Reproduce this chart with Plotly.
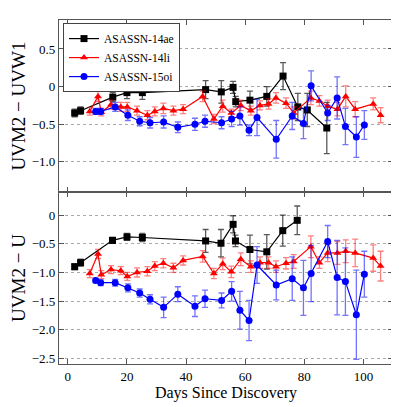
import plotly.graph_objects as go
from plotly.subplots import make_subplots

# ---- data ----
days_14ae_top = [2.3, 4.3, 15.2, 20.0, 25.2, 46.6, 51.9, 55.9, 56.8, 61.6, 67.3, 72.8, 77.8, 81.0, 87.6]
uvm2_uvw1_14ae = [-0.35, -0.32, -0.14, -0.08, -0.08, -0.04, -0.07, -0.01, -0.20, -0.18, -0.13, 0.14, -0.27, -0.31, -0.55]
err_uvw1_14ae = [0.05, 0.05, 0.06, 0.08, 0.09, 0.12, 0.15, 0.08, 0.07, 0.12, 0.13, 0.18, 0.18, 0.22, 0.34]

days_14ae_bot = [2.3, 4.3, 15.1, 20.0, 25.2, 46.6, 51.8, 55.9, 56.7, 61.6, 67.3, 72.7, 77.6]
uvm2_u_14ae = [-0.90, -0.83, -0.44, -0.38, -0.39, -0.45, -0.49, -0.16, -0.45, -0.60, -0.64, -0.27, -0.09]
err_u_14ae = [0.05, 0.06, 0.05, 0.06, 0.07, 0.20, 0.24, 0.15, 0.10, 0.25, 0.30, 0.27, 0.25]

days_14li = [7.4, 10.2, 11.3, 14.6, 17.9, 20.1, 23.4, 26.9, 29.4, 32.3, 35.7, 39.0, 45.6, 49.4, 52.4, 55.3,
             58.5, 61.9, 65.0, 67.9, 70.4, 73.8, 76.4, 82.2, 85.1, 87.9, 91.2, 94.0, 97.2, 103.3, 105.8]
uvm2_uvw1_14li = [-0.33, -0.13, -0.34, -0.24, -0.27, -0.27, -0.32, -0.38, -0.33, -0.29, -0.32, -0.30, -0.13,
                  -0.43, -0.26, -0.35, -0.25, -0.32, -0.25, -0.23, -0.15, -0.22, -0.35, -0.15, -0.19, -0.26,
                  -0.30, -0.13, -0.30, -0.23, -0.38]
err_uvw1_14li = [0.05, 0.07, 0.05, 0.06, 0.06, 0.06, 0.06, 0.06, 0.06, 0.07, 0.06, 0.06, 0.07, 0.06, 0.08, 0.05,
                 0.07, 0.06, 0.06, 0.07, 0.07, 0.07, 0.08, 0.09, 0.07, 0.08, 0.09, 0.14, 0.10, 0.08, 0.10]
uvm2_u_14li = [-1.02, -0.68, -1.04, -0.95, -0.97, -1.07, -1.00, -0.98, -0.89, -0.84, -0.92, -0.79, -0.72,
               -1.02, -0.85, -0.99, -0.77, -0.90, -0.83, -0.83, -0.90, -0.84, -0.81, -0.55, -0.83, -0.66,
               -0.66, -0.63, -0.66, -0.75, -0.89]
err_u_14li = [0.07, 0.08, 0.07, 0.07, 0.07, 0.07, 0.08, 0.08, 0.08, 0.08, 0.08, 0.08, 0.10, 0.09, 0.10, 0.10,
              0.11, 0.10, 0.10, 0.10, 0.10, 0.10, 0.12, 0.19, 0.10, 0.15, 0.20, 0.20, 0.24, 0.23, 0.26]

days_15oi = [9.4, 11.1, 16.0, 20.3, 24.3, 27.8, 32.4, 37.2, 43.0, 46.4, 52.0, 55.4, 58.2, 61.3, 64.0, 70.5,
             75.9, 79.7, 82.3, 87.9, 91.1, 93.9, 97.6, 100.3]
uvm2_uvw1_15oi = [-0.33, -0.33, -0.27, -0.38, -0.46, -0.48, -0.47, -0.54, -0.50, -0.46, -0.48, -0.43, -0.39,
                  -0.58, -0.41, -0.70, -0.39, -0.49, 0.01, -0.35, -0.15, -0.53, -0.67, -0.51]
err_uvw1_15oi = [0.04, 0.04, 0.06, 0.07, 0.06, 0.07, 0.08, 0.07, 0.08, 0.08, 0.08, 0.10, 0.12, 0.07, 0.24, 0.25,
                 0.18, 0.20, 0.20, 0.10, 0.28, 0.24, 0.27, 0.19]
uvm2_u_15oi = [-1.14, -1.18, -1.18, -1.27, -1.36, -1.47, -1.61, -1.38, -1.59, -1.46, -1.49, -1.33, -1.66,
               -1.84, -0.87, -1.22, -1.11, -1.27, -1.02, -0.46, -1.09, -1.16, -1.74, -1.03]
err_u_15oi = [0.04, 0.05, 0.06, 0.07, 0.07, 0.08, 0.18, 0.13, 0.18, 0.15, 0.13, 0.17, 0.33, 0.35, 0.32, 0.26,
              0.38, 0.48, 0.49, 0.28, 0.65, 0.59, 0.78, 0.40]

top_ticks = [0.5, 0, -0.5, -1.0]
top_ticktext = ["0.5", "0", "\u22120.5", "\u22121.0"]
bot_ticks = [0, -0.5, -1.0, -1.5, -2.0, -2.5]
bot_ticktext = ["0", "\u22120.5", "\u22121.0", "\u22121.5", "\u22122.0", "\u22122.5"]
x_ticks = [0, 20, 40, 60, 80, 100]

FONT = "Liberation Serif, DejaVu Serif, serif"

fig = make_subplots(rows=2, cols=1, shared_xaxes=True, vertical_spacing=0)

series = [
    ("ASASSN-14ae", "black", "rgba(0,0,0,0.65)", "square",
     days_14ae_top, uvm2_uvw1_14ae, err_uvw1_14ae, days_14ae_bot, uvm2_u_14ae, err_u_14ae),
    ("ASASSN-14li", "#ff0000", "rgba(255,0,0,0.5)", "triangle-up",
     days_14li, uvm2_uvw1_14li, err_uvw1_14li, days_14li, uvm2_u_14li, err_u_14li),
    ("ASASSN-15oi", "#0000ff", "rgba(0,0,255,0.55)", "circle",
     days_15oi, uvm2_uvw1_15oi, err_uvw1_15oi, days_15oi, uvm2_u_15oi, err_u_15oi),
]

for name, col, ecol, sym, x1, y1, e1, x2, y2, e2 in series:
    fig.add_trace(go.Scatter(
        x=x1, y=y1, name=name, mode="lines+markers",
        line=dict(color=col, width=1.2),
        marker=dict(symbol=sym, size=7, color=col),
        error_y=dict(type="data", array=e1, color=ecol, thickness=1.3, width=3),
        legendgroup=name, showlegend=True), row=1, col=1)
    fig.add_trace(go.Scatter(
        x=x2, y=y2, name=name, mode="lines+markers",
        line=dict(color=col, width=1.2),
        marker=dict(symbol=sym, size=7, color=col),
        error_y=dict(type="data", array=e2, color=ecol, thickness=1.3, width=3),
        legendgroup=name, showlegend=False), row=2, col=1)

axis_common = dict(showline=True, linecolor="#555555", linewidth=1.2, mirror="ticks",
                   ticks="inside", ticklen=5, tickcolor="#555555", zeroline=False, automargin=False,
                   tickfont=dict(family=FONT, size=13, color="black"))

fig.update_xaxes(range=[-3, 110], tickvals=x_ticks, showgrid=False, **axis_common)
fig.update_xaxes(showticklabels=False, row=1, col=1)
fig.update_xaxes(title=dict(text="Days Since Discovery", font=dict(family=FONT, size=16, color="black"),
                            standoff=0), row=2, col=1)

fig.update_yaxes(showgrid=True, gridcolor="#aaaaaa", griddash="dot", gridwidth=1, **axis_common)
fig.update_yaxes(range=[-1.4, 0.885], tickvals=top_ticks, ticktext=top_ticktext,
                 title=dict(text="UVM2 \u2212 UVW1", font=dict(family=FONT, size=19, color="black"), standoff=6),
                 row=1, col=1)
fig.update_yaxes(range=[-2.6, 0.405], tickvals=bot_ticks, ticktext=bot_ticktext,
                 title=dict(text="UVM2 \u2212 U", font=dict(family=FONT, size=19, color="black"), standoff=6),
                 row=2, col=1)

# page body has an 8px default margin; size the figure so the plot area lands where the reference has it
fig.update_layout(
    width=391, height=399,
    margin=dict(l=51, r=6, t=12, b=43),
    plot_bgcolor="white", paper_bgcolor="white",
    font=dict(family=FONT, color="black"),
    legend=dict(x=0.012, y=0.991, xanchor="left", yanchor="top",
                bgcolor="white", bordercolor="#444444", borderwidth=1,
                font=dict(family=FONT, size=11.5, color="black"),
                tracegroupgap=0, itemwidth=30),
)

fig.write_html("out.html")
